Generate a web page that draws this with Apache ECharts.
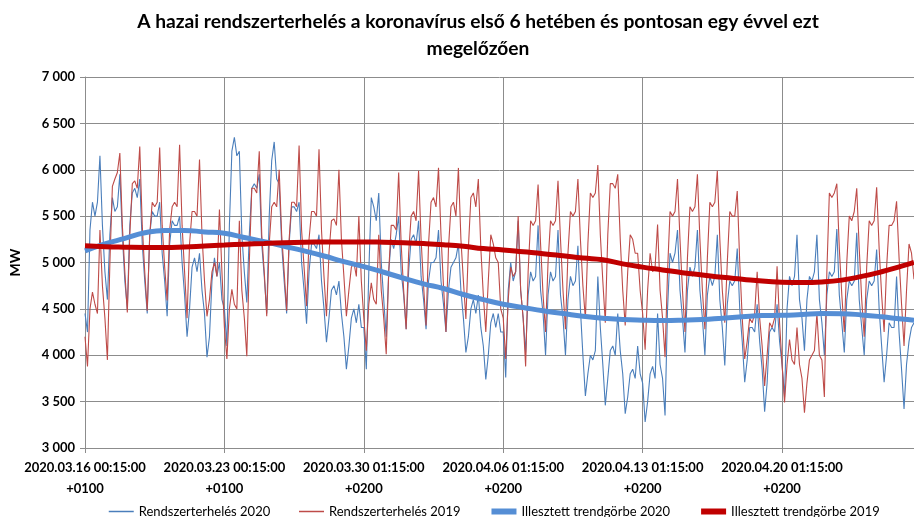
<!DOCTYPE html>
<html>
<head>
<meta charset="utf-8">
<title>Rendszerterhelés</title>
<script src="https://cdn.jsdelivr.net/npm/echarts@6/dist/echarts.min.js"></script>
<style>
    html, body { margin: 0; padding: 0; background: #fff; }
    #main { width: 914px; height: 517px; }
</style>
</head>
<body>
<div id="main"></div>
<script>
// 3 órás felbontás, 8 pont / nap (00,03,...,21), 2020.03.16-tól
var tickLabels = ['2020.03.16 00:15:00\n+0100', '2020.03.23 00:15:00\n+0100', '2020.03.30 01:15:00\n+0200',
    '2020.04.06 01:15:00\n+0200', '2020.04.13 01:15:00\n+0200', '2020.04.20 01:15:00\n+0200'];

// Rendszerterhelés 2020 (MW)
var load2020 = [
    4450, 4250, 5350, 5650, 5500, 5650, 6150, 5400,
    4900, 4600, 5300, 5700, 5550, 5600, 5950, 5300,
    4800, 4500, 5400, 5750, 5800, 5700, 5900, 5200,
    4800, 4450, 5300, 5550, 5500, 5500, 5650, 5100,
    4800, 4420, 5200, 5450, 5400, 5400, 5500, 5000,
    4650, 4200, 4500, 4950, 5050, 4900, 5100, 4700,
    4450, 3980, 4200, 4800, 5050, 4850, 5000, 4600,
    // 03.23
    4500, 4100, 5400, 6200, 6350, 6150, 6200, 5300,
    4900, 4570, 5300, 5800, 5850, 5800, 5950, 5200,
    4850, 4450, 5500, 6100, 6300, 5900, 5850, 5200,
    4800, 4450, 5200, 5600, 5600, 5550, 5650, 5000,
    4700, 4340, 4900, 5200, 5200, 5150, 5300, 4800,
    4500, 4140, 4400, 4700, 4750, 4650, 4800, 4450,
    4200, 3850, 4100, 4400, 4500, 4350, 4550, 4300,
    // 03.30
    4300, 3850, 4900, 5700, 5600, 5450, 5750, 5000,
    4600, 4200, 4900, 5250, 5150, 5300, 5500, 4900,
    4650, 4280, 4900, 5250, 5300, 5200, 5450, 4850,
    4600, 4280, 4800, 5000, 5000, 5050, 5350, 4800,
    4550, 4250, 4700, 4950, 5000, 5050, 5200, 4700,
    4400, 4030, 4200, 4500, 4600, 4450, 4650, 4300,
    4100, 3740, 4000, 4350, 4450, 4300, 4450, 4250,
    // 04.06
    4250, 3760, 4700, 5000, 4800, 4900, 5450, 4700,
    4400, 4030, 4650, 4900, 4800, 4850, 5400, 4700,
    4450, 4000, 4650, 4900, 4800, 4850, 5350, 4650,
    4400, 4000, 4600, 4850, 4750, 4800, 5180, 4500,
    4000, 3560, 3800, 4000, 3950, 4050, 4850, 4300,
    3900, 3460, 3750, 4050, 4100, 4000, 4450, 4050,
    3800, 3370, 3550, 3800, 3850, 3750, 4100, 3800,
    // 04.13
    3700, 3280, 3500, 3800, 3880, 3750, 4450, 3900,
    3750, 3350, 4500, 5100, 5000, 5100, 5350, 4700,
    4400, 4030, 4700, 4950, 4850, 4950, 5350, 4700,
    4400, 4000, 4650, 4850, 4750, 4850, 5300, 4600,
    4300, 3890, 4550, 4800, 4750, 4800, 5150, 4500,
    4150, 3710, 3950, 4300, 4300, 4250, 4550, 4150,
    3850, 3390, 3700, 4250, 4300, 4250, 4550, 4150,
    // 04.20
    3900, 3550, 4500, 4850, 4750, 4850, 5300, 4600,
    4400, 4050, 4600, 4850, 4800, 4900, 5300, 4600,
    4350, 4000, 4650, 4900, 4850, 4900, 5360, 4650,
    4350, 4030, 4600, 4800, 4750, 4800, 5320, 4600,
    4300, 4000, 4600, 4800, 4750, 4800, 5140, 4500,
    4100, 3710, 4000, 4350, 4300, 4300, 4850, 4250,
    3850, 3420, 3900, 4150, 4300, 4350
];

// Rendszerterhelés 2019 (MW), egy évvel korábban
var load2019 = [
    4200, 3880, 4500, 4680, 4550, 4450, 5350, 4750,
    4400, 3950, 5000, 5820, 5900, 5970, 6180, 5400,
    4900, 4460, 5300, 5850, 5880, 5800, 6250, 5400,
    4900, 4480, 5300, 5650, 5600, 5650, 6240, 5400,
    4950, 4590, 5350, 5600, 5650, 5600, 6270, 5400,
    4900, 4400, 5200, 5550, 5550, 5500, 6110, 5300,
    4800, 4420, 4600, 4900, 5000, 4850, 5570, 4900,
    //
    4300, 3960, 4500, 4710, 4550, 4500, 5450, 4700,
    4400, 3990, 5000, 5800, 5800, 5750, 6200, 5300,
    4900, 4420, 5200, 5600, 5650, 5600, 6000, 5300,
    4900, 4480, 5250, 5650, 5650, 5600, 6260, 5350,
    4950, 4530, 5250, 5550, 5550, 5500, 6220, 5350,
    4850, 4420, 5100, 5450, 5470, 5400, 6000, 5250,
    4850, 4420, 4700, 4950, 5000, 4850, 5500, 4800,
    //
    4400, 4050, 4550, 4780, 4600, 4550, 5300, 4700,
    4400, 4010, 4900, 5400, 5400, 5350, 5970, 5200,
    4700, 4280, 5100, 5500, 5550, 5450, 5990, 5250,
    4750, 4320, 5200, 5650, 5700, 5600, 6020, 5300,
    4750, 4250, 5150, 5600, 5650, 5500, 6020, 5250,
    4800, 4390, 5150, 5700, 5750, 5600, 5900, 5150,
    4650, 4250, 4800, 5300, 5200, 5050, 5000, 4500,
    //
    4400, 3960, 4600, 4950, 4850, 4900, 5500, 4700,
    4400, 3880, 4900, 5450, 5400, 5450, 5840, 5200,
    4650, 4250, 5000, 5450, 5400, 5450, 5880, 5250,
    4700, 4280, 5100, 5550, 5500, 5550, 5900, 5250,
    4750, 4390, 5200, 5750, 5700, 5750, 6050, 5300,
    4800, 4350, 5300, 5850, 5850, 5800, 5950, 5250,
    4700, 4320, 4900, 5300, 5250, 5100, 5100, 4700,
    //
    4450, 4060, 4700, 5100, 4900, 4950, 5410, 4700,
    4400, 3980, 4900, 5550, 5500, 5550, 5900, 5250,
    4700, 4250, 5050, 5600, 5550, 5600, 5950, 5250,
    4700, 4280, 5050, 5650, 5600, 5650, 5990, 5250,
    4700, 4350, 5000, 5550, 5500, 5500, 5770, 5000,
    4400, 3960, 4150, 4400, 4350, 4450, 4900, 4400,
    4100, 3670, 4000, 4350, 4300, 4400, 4960, 4350,
    //
    3900, 3490, 3900, 4170, 3950, 3900, 4300, 3900,
    3750, 3380, 3700, 3950, 4000, 4050, 4450, 4000,
    3950, 3550, 4900, 5750, 5700, 5750, 5850, 5150,
    4650, 4250, 5000, 5500, 5450, 5550, 5800, 5150,
    4600, 4200, 4950, 5450, 5400, 5450, 5810, 5150,
    4650, 4250, 4950, 5400, 5400, 5450, 5660, 5050,
    4550, 4100, 4700, 5200, 5100, 4820
];

// illesztett trendgörbék, naponta egy érték (az utolsó a tengely végén)
var trend2020 = [5125, 5200, 5260, 5320, 5345, 5345, 5330, 5315, 5270, 5225, 5175, 5125, 5070, 5010,
    4955, 4895, 4830, 4770, 4720, 4655, 4600, 4550, 4515, 4480, 4450, 4420, 4400, 4385,
    4378, 4375, 4378, 4385, 4400, 4415, 4428, 4430, 4440, 4450, 4448, 4435, 4415, 4390, 4378];
var trend2019 = [5180, 5170, 5165, 5162, 5162, 5168, 5178, 5188, 5198, 5206, 5213, 5218, 5221, 5222,
    5222, 5218, 5212, 5204, 5192, 5175, 5150, 5135, 5115, 5095, 5072, 5048, 5030, 4985,
    4950, 4920, 4890, 4865, 4840, 4820, 4800, 4788, 4784, 4790, 4810, 4850, 4900, 4960, 5000];

var perDay = 8;
var perWeek = perDay * 7;
var lastIdx = load2020.length - 1;

// kategóriák (időpontok)
var categories = [];
for (var i = 0; i <= lastIdx; i++) {
    var d = 16 + Math.floor(i / perDay), m = 3;
    if (d > 31) { d -= 31; m = 4; }
    var h = (i % perDay) * 3;
    categories.push('2020.0' + m + '.' + (d < 10 ? '0' + d : d) + ' ' + (h < 10 ? '0' + h : h) + ':15:00');
}

function trendPoints(arr) {
    return arr.map(function (v, k) { return [Math.min(k * perDay, lastIdx), v]; });
}

function weekTick(index) { return index % perWeek === 0; }

var font = 'Lato, "Liberation Sans", sans-serif';
var gridColor = '#8c8c8c';

var chart = echarts.init(document.getElementById('main'));
var option = {
    animation: false,
    textStyle: { fontFamily: font },
    graphic: [{
        type: 'text',
        x: 478,
        y: 8,
        style: {
            text: 'A hazai rendszerterhelés a koronavírus első 6 hetében és pontosan egy évvel ezt\nmegelőzően',
            fontFamily: font,
            fontWeight: 'bold',
            fontSize: 19.2,
            lineHeight: 27,
            align: 'center',
            verticalAlign: 'top',
            fill: '#000'
        }
    }],
    legend: {
        left: 103,
        top: 500,
        padding: 5,
        itemWidth: 25,
        itemHeight: 14,
        itemGap: 28,
        itemStyle: { opacity: 0 },
        textStyle: { fontFamily: font, fontSize: 13, color: '#000' },
        data: [
            { name: 'Rendszerterhelés 2020', lineStyle: { width: 1.5 } },
            { name: 'Rendszerterhelés 2019', lineStyle: { width: 1.5 } },
            { name: 'Illesztett trendgörbe 2020', lineStyle: { width: 6 } },
            { name: 'Illesztett trendgörbe 2019', lineStyle: { width: 6 } }
        ]
    },
    grid: { left: 84, right: 0, top: 77, bottom: 69, containLabel: false },
    xAxis: {
        type: 'category',
        data: categories,
        boundaryGap: false,
        axisLine: { show: true, lineStyle: { color: gridColor } },
        axisTick: { show: true, interval: weekTick, length: 5, lineStyle: { color: gridColor } },
        splitLine: { show: true, interval: weekTick, lineStyle: { color: gridColor, width: 1 } },
        axisLabel: {
            interval: weekTick,
            margin: 9,
            fontFamily: font,
            fontWeight: 'bold',
            fontSize: 13,
            lineHeight: 21,
            color: '#000',
            formatter: function (val, index) { return tickLabels[Math.round(index / perWeek)] || ''; }
        }
    },
    yAxis: {
        type: 'value',
        min: 3000,
        max: 7000,
        interval: 500,
        name: 'MW',
        nameLocation: 'middle',
        nameGap: 63,
        nameRotate: 90,
        nameTextStyle: { fontFamily: font, fontWeight: 'bold', fontSize: 14, color: '#000' },
        axisLine: { show: true, lineStyle: { color: gridColor } },
        axisTick: { show: true, length: 5, lineStyle: { color: gridColor } },
        splitLine: { lineStyle: { color: gridColor, width: 1 } },
        axisLabel: {
            margin: 10,
            fontFamily: font,
            fontWeight: 'bold',
            fontSize: 13,
            color: '#000',
            formatter: function (v) { return String(v).replace(/\B(?=(\d{3})+(?!\d))/g, ' '); }
        }
    },
    series: [
        {
            name: 'Rendszerterhelés 2020',
            type: 'line',
            data: load2020,
            symbol: 'none',
            color: '#4a7ebb',
            lineStyle: { width: 1.1, color: '#4a7ebb' }
        },
        {
            name: 'Rendszerterhelés 2019',
            type: 'line',
            data: load2019,
            symbol: 'none',
            color: '#be4b48',
            lineStyle: { width: 1.1, color: '#be4b48' }
        },
        {
            name: 'Illesztett trendgörbe 2020',
            type: 'line',
            data: trendPoints(trend2020),
            symbol: 'none',
            smooth: true,
            color: '#558ed5',
            lineStyle: { width: 5, color: '#558ed5' }
        },
        {
            name: 'Illesztett trendgörbe 2019',
            type: 'line',
            data: trendPoints(trend2019),
            symbol: 'none',
            smooth: true,
            color: '#c00000',
            lineStyle: { width: 5, color: '#c00000' }
        }
    ]
};
chart.setOption(option);
</script>
</body>
</html>
